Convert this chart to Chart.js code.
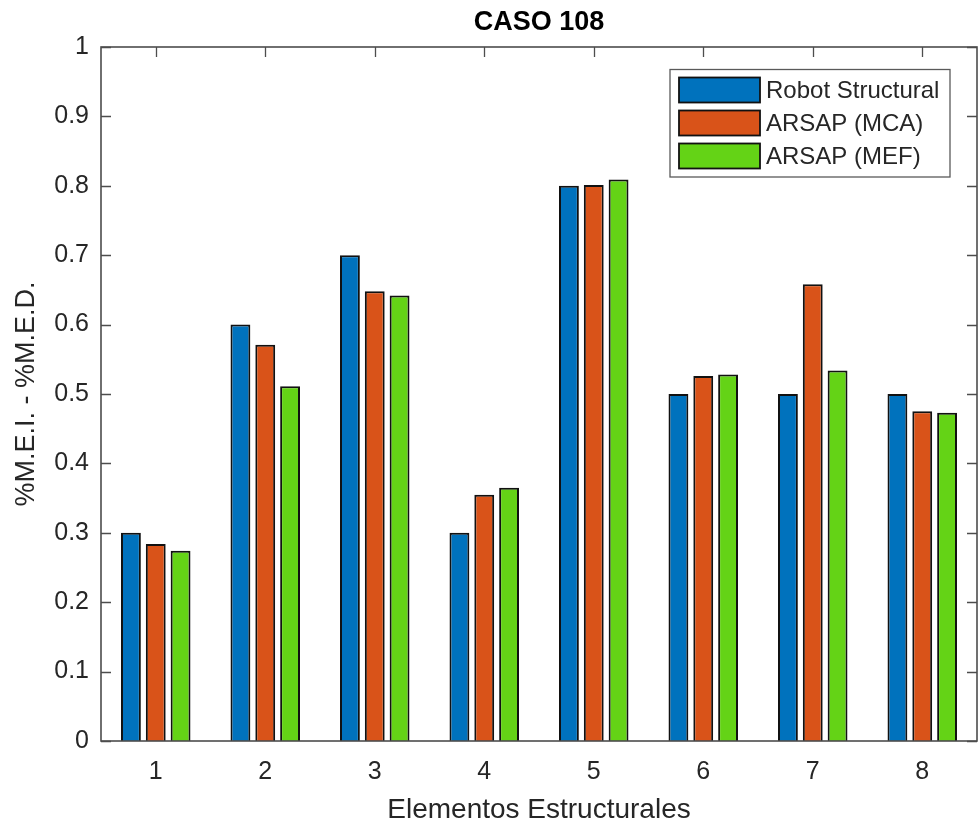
<!DOCTYPE html>
<html>
<head>
<meta charset="utf-8">
<title>CASO 108</title>
<script src="https://cdn.jsdelivr.net/npm/chart.js@4/dist/chart.umd.min.js"></script>
<style>
  html, body { margin: 0; padding: 0; background: #ffffff; }
  #wrap { width: 979px; height: 827px; }
</style>
</head>
<body>
<div id="wrap"><canvas id="chart" width="979" height="827"></canvas></div>
<script>
// Data: one value per structural element, per method
const elementos = ['1', '2', '3', '4', '5', '6', '7', '8'];
const robotStructural = [0.300, 0.600, 0.700, 0.300, 0.800, 0.500, 0.500, 0.500];
const arsapMca = [0.284, 0.571, 0.648, 0.355, 0.801, 0.526, 0.658, 0.475];
const arsapMef = [0.274, 0.511, 0.642, 0.365, 0.809, 0.528, 0.534, 0.473];
const yTickLabels = ['0', '0.1', '0.2', '0.3', '0.4', '0.5', '0.6', '0.7', '0.8', '0.9', '1'];

const seriesNames = ['Robot Structural', 'ARSAP (MCA)', 'ARSAP (MEF)'];
const seriesColors = ['#0072bd', '#d95319', '#64d316'];

const FONT = '"Liberation Sans", Arial, Helvetica, sans-serif';
const AXIS_COLOR = '#4d4d4d';
const TEXT_COLOR = '#262626';
const EDGE_COLOR = '#111111';
const TICK_LEN = 10;

Chart.defaults.font.family = FONT;
Chart.defaults.color = TEXT_COLOR;

// Box around the axes plus inward tick marks on all four sides
const axesBox = {
  id: 'axesBox',
  beforeDatasetsDraw(chart) {
    const { ctx, chartArea: a, scales: { x, y } } = chart;
    ctx.save();
    ctx.strokeStyle = AXIS_COLOR;
    ctx.lineWidth = 1.3;
    ctx.beginPath();
    x.ticks.forEach((_, i) => {
      const px = Math.round(x.getPixelForTick(i)) + 0.5;
      ctx.moveTo(px, a.bottom);
      ctx.lineTo(px, a.bottom - TICK_LEN);
      ctx.moveTo(px, a.top);
      ctx.lineTo(px, a.top + TICK_LEN);
    });
    y.ticks.forEach((_, i) => {
      const py = Math.round(y.getPixelForTick(i)) + 0.5;
      ctx.moveTo(a.left, py);
      ctx.lineTo(a.left + TICK_LEN, py);
      ctx.moveTo(a.right, py);
      ctx.lineTo(a.right - TICK_LEN, py);
    });
    ctx.stroke();
    ctx.restore();
  },
  afterDatasetsDraw(chart) {
    const { ctx, chartArea: a } = chart;
    ctx.save();
    ctx.strokeStyle = AXIS_COLOR;
    ctx.lineWidth = 1.6;
    ctx.strokeRect(a.left, a.top, a.right - a.left, a.bottom - a.top);
    ctx.restore();
  }
};

// Boxed legend in the upper right corner of the axes
const boxedLegend = {
  id: 'boxedLegend',
  afterDraw(chart) {
    const { ctx, chartArea: a } = chart;
    const right = a.right - 27;
    const top = a.top + 22.5;
    const width = 280;
    const left = right - width;
    const rowH = 33;
    const height = 107.5;
    ctx.save();
    ctx.fillStyle = '#ffffff';
    ctx.fillRect(left, top, width, height);
    ctx.strokeStyle = '#5a5a5a';
    ctx.lineWidth = 1.3;
    ctx.strokeRect(left, top, width, height);
    ctx.font = '24px ' + FONT;
    ctx.textBaseline = 'middle';
    ctx.textAlign = 'left';
    chart.data.datasets.forEach((ds, i) => {
      const sy = top + 8 + i * rowH;
      ctx.fillStyle = ds.backgroundColor;
      ctx.fillRect(left + 9, sy, 81, 25);
      ctx.strokeStyle = EDGE_COLOR;
      ctx.lineWidth = 1.8;
      ctx.strokeRect(left + 9, sy, 81, 25);
      ctx.fillStyle = TEXT_COLOR;
      ctx.fillText(ds.label, left + 96, sy + 13.5);
    });
    ctx.restore();
  }
};

const values = [robotStructural, arsapMca, arsapMef];

new Chart(document.getElementById('chart').getContext('2d'), {
  type: 'bar',
  data: {
    labels: elementos,
    datasets: values.map((data, i) => ({
      label: seriesNames[i],
      data,
      backgroundColor: seriesColors[i],
      borderColor: EDGE_COLOR,
      borderWidth: 2,
      barPercentage: 0.8,
      categoryPercentage: 0.68
    }))
  },
  options: {
    responsive: false,
    animation: false,
    layout: { padding: { left: 0, right: 2, top: 0, bottom: 0 } },
    plugins: {
      legend: { display: false },
      title: { display: false },
      tooltip: { enabled: false }
    },
    scales: {
      x: {
        type: 'category',
        position: 'bottom',
        grid: { display: false, drawTicks: false },
        border: { display: false },
        ticks: { padding: 16, font: { size: 25 }, color: TEXT_COLOR, maxRotation: 0 },
        title: {
          display: true,
          text: 'Elementos Estructurales',
          font: { size: 28 },
          color: TEXT_COLOR,
          padding: { top: 0, bottom: 0 }
        },
        afterFit(scale) { scale.height = 86; }
      },
      // top axis only carries the chart title, centred over the axes
      xTop: {
        type: 'category',
        position: 'top',
        grid: { display: false, drawTicks: false },
        border: { display: false },
        ticks: { display: false },
        title: {
          display: true,
          text: 'CASO 108',
          font: { size: 27, weight: 'bold' },
          color: '#000000',
          padding: { top: 6, bottom: 0 }
        },
        afterFit(scale) { scale.height = 47; }
      },
      y: {
        min: 0,
        max: 1,
        grid: { display: false, drawTicks: false },
        border: { display: false },
        ticks: {
          stepSize: 0.1,
          padding: 12,
          font: { size: 25 },
          color: TEXT_COLOR,
          callback: (value, index) => yTickLabels[index]
        },
        title: {
          display: true,
          text: '%M.E.I. - %M.E.D.',
          font: { size: 27 },
          color: TEXT_COLOR,
          padding: { top: 10, bottom: 0 }
        },
        afterFit(scale) { scale.width = 101; }
      }
    }
  },
  plugins: [axesBox, boxedLegend]
});
</script>
</body>
</html>
